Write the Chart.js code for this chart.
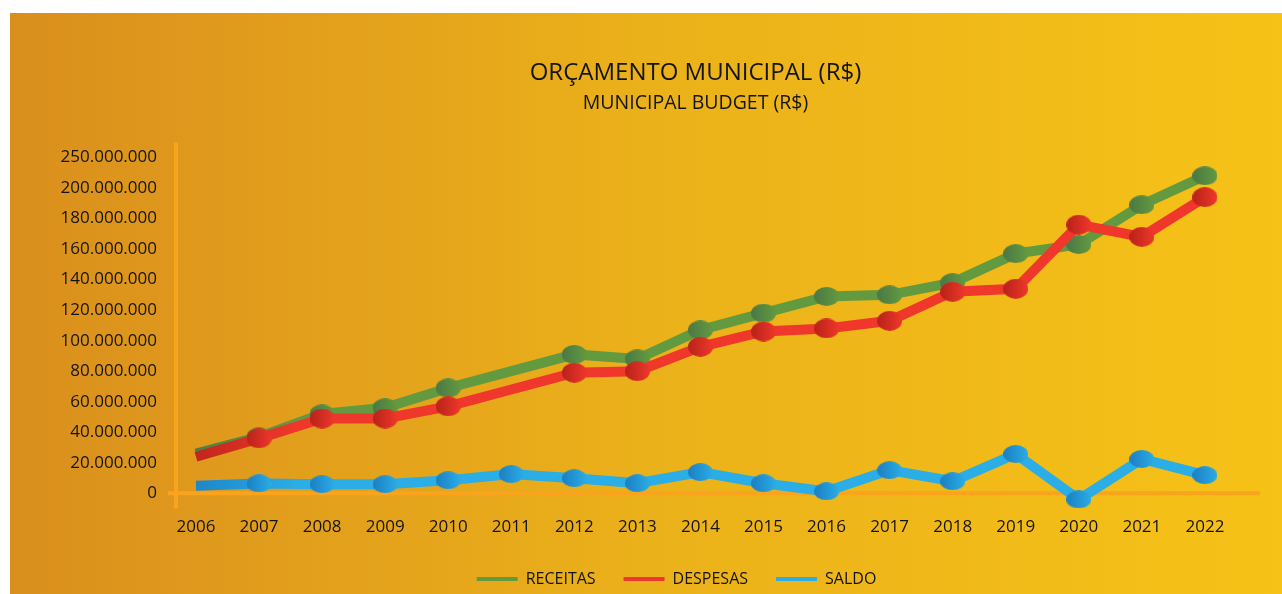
<!DOCTYPE html>
<html>
<head>
<meta charset="utf-8">
<title>Orçamento Municipal</title>
<script src="https://cdn.jsdelivr.net/npm/chart.js@4.4.0/dist/chart.umd.min.js"></script>
<style>
    html, body { margin: 0; padding: 0; background: #fff; }
    #wrap { width: 1282px; height: 594px; }
</style>
</head>
<body>
<div id="wrap"><canvas id="budgetChart"></canvas></div>
<script>
const years = [2006, 2007, 2008, 2009, 2010, 2011, 2012, 2013, 2014, 2015, 2016, 2017, 2018, 2019, 2020, 2021, 2022];
const receitas = [26e6, 37e6, 52e6, 56e6, 69e6, 80e6, 91e6, 88e6, 107e6, 118e6, 129e6, 130e6, 138e6, 157e6, 163e6, 189e6, 208e6];
const despesas = [24e6, 36e6, 49e6, 49e6, 57e6, 68e6, 79e6, 80e6, 96e6, 106e6, 108e6, 113e6, 132e6, 134e6, 176e6, 168e6, 194e6];
const saldo = [5e6, 6.5e6, 6e6, 6e6, 8.6e6, 12.6e6, 9.9e6, 6.6e6, 13.9e6, 6.6e6, 1.3e6, 15.2e6, 7.9e6, 25.8e6, -4e6, 22.5e6, 11.9e6];

// tick labels on the picture are not evenly spaced in value (top one says 250 mi)
const yTickValues = [0, 20e6, 40e6, 60e6, 80e6, 100e6, 120e6, 140e6, 160e6, 180e6, 200e6, 220e6];
const yTickLabels = ['0', '20.000.000', '40.000.000', '60.000.000', '80.000.000', '100.000.000',
    '120.000.000', '140.000.000', '160.000.000', '180.000.000', '200.000.000', '250.000.000'];

const seriesColors = {
    receitas: ['#4b7846', '#639a40'],
    despesas: ['#b82219', '#ef382b'],
    saldo: ['#1b7fc3', '#2badE6']
};

// little shaded ellipse used as marker
function makeMarker(colors, w, h) {
    const c = document.createElement('canvas');
    c.width = w; c.height = h;
    const ctx = c.getContext('2d');
    const g = ctx.createLinearGradient(0, 0, w, 0);
    g.addColorStop(0, colors[0]);
    g.addColorStop(1, colors[1]);
    ctx.fillStyle = g;
    ctx.beginPath();
    ctx.ellipse(w / 2, h / 2, w / 2, h / 2, 0, 0, Math.PI * 2);
    ctx.fill();
    return c;
}

const markers = {
    receitas: makeMarker(seriesColors.receitas, 25, 19),
    despesas: makeMarker(seriesColors.despesas, 25, 20),
    saldo: makeMarker(seriesColors.saldo, 25, 18)
};

function lineGradient(ctx, colors) {
    const area = ctx.chart.chartArea;
    if (!area) return colors[1];
    const g = ctx.chart.ctx.createLinearGradient(area.left, 0, area.left + 120, 0);
    g.addColorStop(0, colors[0]);
    g.addColorStop(1, colors[1]);
    return g;
}

const backgroundPlugin = {
    id: 'panelBackground',
    beforeDraw(chart) {
        const ctx = chart.ctx;
        const g = ctx.createLinearGradient(10, 0, chart.width, 0);
        g.addColorStop(0, '#da8f1d');
        g.addColorStop(0.5, '#ebb11a');
        g.addColorStop(1, '#f6c217');
        ctx.save();
        ctx.fillStyle = g;
        ctx.fillRect(10, 13, chart.width - 10, chart.height - 13);
        ctx.restore();
    }
};

const axisCrossPlugin = {
    id: 'axisCross',
    beforeDatasetsDraw(chart) {
        const ctx = chart.ctx;
        const area = chart.chartArea;
        const zeroY = chart.scales.y.getPixelForValue(0);
        ctx.save();
        ctx.strokeStyle = '#f9a41c';
        ctx.lineWidth = 4;
        ctx.beginPath();
        ctx.moveTo(area.left, area.top);
        ctx.lineTo(area.left, area.bottom);
        ctx.moveTo(area.left - 8, zeroY);
        ctx.lineTo(area.right + 45, zeroY);
        ctx.stroke();
        ctx.restore();
    }
};

// the legend sits a bit left of the plot centre in the picture
const legendShift = {
    id: 'legendShift',
    afterLayout(chart) {
        chart.legend.left -= 19;
        chart.legend.right -= 19;
    }
};

function showMarker(ctx) {
    const i = ctx.dataIndex;
    if (i === 0) return false;
    if (ctx.dataset.key !== 'saldo' && years[i] === 2011) return false;
    return markers[ctx.dataset.key];
}

function makeDataset(key, label, values, order) {
    return {
        key: key,
        label: label,
        data: years.map((y, i) => ({ x: y, y: values[i] })),
        borderColor: ctx => lineGradient(ctx, seriesColors[key]),
        backgroundColor: seriesColors[key][1],
        borderWidth: 10,
        tension: 0,
        pointStyle: showMarker,
        pointRadius: 12,
        pointHoverRadius: 12,
        clip: false,
        order: order
    };
}

new Chart(document.getElementById('budgetChart'), {
    type: 'line',
    data: {
        datasets: [
            makeDataset('receitas', 'RECEITAS', receitas, 2),
            makeDataset('despesas', 'DESPESAS', despesas, 1),
            makeDataset('saldo', 'SALDO', saldo, 3)
        ]
    },
    options: {
        responsive: true,
        maintainAspectRatio: false,
        animation: false,
        layout: { padding: { top: 13, right: 67, bottom: -3, left: 0 } },
        plugins: {
            title: {
                display: true,
                text: 'ORÇAMENTO MUNICIPAL (R$)',
                fullSize: false,
                color: '#141414',
                font: { family: 'Open Sans', size: 24, weight: 'normal' },
                padding: { top: 46, bottom: 4 }
            },
            subtitle: {
                display: true,
                text: 'MUNICIPAL BUDGET (R$)',
                fullSize: false,
                color: '#141414',
                font: { family: 'Open Sans', size: 19.5, weight: 'normal' },
                padding: { top: 0, bottom: 27 }
            },
            legend: {
                position: 'bottom',
                fullSize: false,
                labels: {
                    color: '#141414',
                    font: { family: 'Open Sans', size: 16 },
                    boxWidth: 41,
                    boxHeight: 4,
                    padding: 28,
                    generateLabels(chart) {
                        return chart.data.datasets.map((ds, i) => ({
                            text: ds.label,
                            fillStyle: seriesColors[ds.key][1],
                            strokeStyle: seriesColors[ds.key][1],
                            lineWidth: 0,
                            fontColor: '#141414',
                            hidden: !chart.isDatasetVisible(i),
                            datasetIndex: i
                        }));
                    }
                }
            },
            tooltip: { enabled: false }
        },
        scales: {
            x: {
                type: 'linear',
                min: 2005.683,
                max: 2022.16,
                grid: { display: false },
                border: { display: false },
                afterBuildTicks(scale) {
                    scale.ticks = years.map(y => ({ value: y }));
                },
                afterFit(scale) {
                    scale.height += 6;
                },
                ticks: {
                    autoSkip: false,
                    maxRotation: 0,
                    padding: 0,
                    color: '#141414',
                    font: { family: 'Open Sans', size: 17 },
                    callback: v => String(v)
                }
            },
            y: {
                min: -10e6,
                max: 230e6,
                grid: { display: false },
                border: { display: false },
                afterBuildTicks(scale) {
                    scale.ticks = yTickValues.map(v => ({ value: v }));
                },
                afterFit(scale) {
                    scale.width = 176;
                },
                ticks: {
                    padding: 11,
                    color: '#141414',
                    font: { family: 'Open Sans', size: 17 },
                    callback: v => yTickLabels[yTickValues.indexOf(v)]
                }
            }
        }
    },
    plugins: [backgroundPlugin, axisCrossPlugin, legendShift]
});
</script>
</body>
</html>
